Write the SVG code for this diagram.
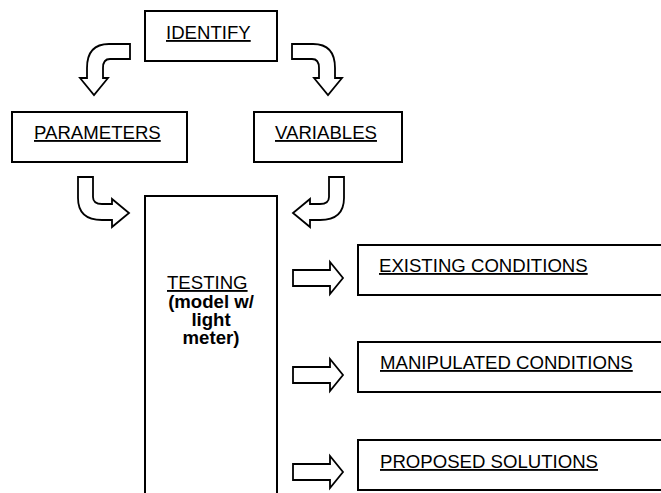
<svg xmlns="http://www.w3.org/2000/svg" width="661" height="493" viewBox="0 0 661 493">
<defs>
<style>
.box{fill:#fff;stroke:#000;stroke-width:2}
.arr{fill:#fff;stroke:#000;stroke-width:1.8;stroke-linejoin:miter}
.t{font-family:"Liberation Sans",Arial,sans-serif;font-size:18.6px;fill:#000;text-decoration:underline}
.b{font-family:"Liberation Sans",Arial,sans-serif;font-size:18.6px;fill:#000;font-weight:bold;text-anchor:middle}
</style>
<path id="curve" d="M292,44 L313,44 Q335,44 335,68 L335,78 L342,78 L328,95 L314,78 L319,78 L319,68 Q319,59 312,59 L292,59 Z"/>
<path id="block" d="M293,270 L330,270 L330,262 L343,278 L330,294 L330,286 L293,286 Z"/>
</defs>
<rect width="661" height="493" fill="#fff"/>
<g id="connectors">
<use href="#curve" class="arr" transform="matrix(-1 0 0 1 422 0)"/>
<use href="#curve" class="arr"/>
<use href="#curve" class="arr" transform="matrix(0 1 1 0 34 -115)"/>
<use href="#curve" class="arr" transform="matrix(0 1 -1 0 388 -115)"/>
<use href="#block" class="arr"/>
<use href="#block" class="arr" transform="translate(0 97)"/>
<use href="#block" class="arr" transform="translate(0 194)"/>
</g>
<g id="identify">
<rect class="box" x="145" y="11" width="132" height="50"/>
<text class="t" x="166" y="39">IDENTIFY</text>
</g>
<g id="parameters">
<rect class="box" x="12" y="112" width="175" height="50"/>
<text class="t" x="34" y="139">PARAMETERS</text>
</g>
<g id="variables">
<rect class="box" x="254" y="112" width="148" height="50"/>
<text class="t" x="275" y="139">VARIABLES</text>
</g>
<g id="testing">
<rect class="box" x="145" y="196" width="132" height="310"/>
<text class="t" x="167" y="289">TESTING</text>
<text class="b" x="211" y="308">(model w/</text>
<text class="b" x="211" y="326">light</text>
<text class="b" x="211" y="343.5">meter)</text>
</g>
<g id="existing">
<rect class="box" x="358" y="245" width="320" height="50"/>
<text class="t" x="379" y="272">EXISTING CONDITIONS</text>
</g>
<g id="manipulated">
<rect class="box" x="358" y="342" width="320" height="50"/>
<text class="t" x="380" y="369">MANIPULATED CONDITIONS</text>
</g>
<g id="proposed">
<rect class="box" x="358" y="440" width="320" height="50"/>
<text class="t" x="380" y="468">PROPOSED SOLUTIONS</text>
</g>
</svg>
